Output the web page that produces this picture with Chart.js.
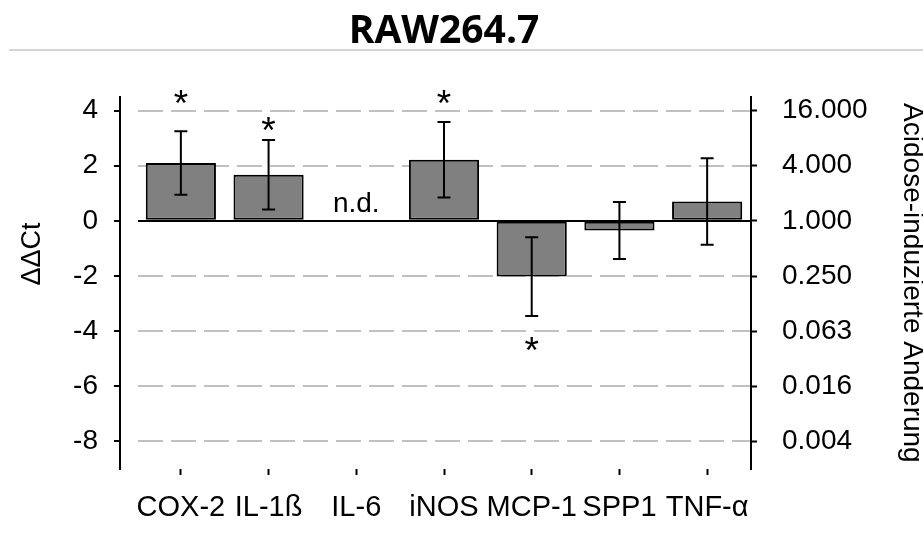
<!DOCTYPE html>
<html><head><meta charset="utf-8">
<script src="https://cdn.jsdelivr.net/npm/chart.js@4.4.1/dist/chart.umd.min.js"></script>
<style>html,body{margin:0;padding:0;background:#fff;}canvas{display:block;}</style>
</head><body>
<canvas id="c" width="923" height="538"></canvas>
<script>
const categories = ['COX-2', 'IL-1ß', 'IL-6', 'iNOS', 'MCP-1', 'SPP1', 'TNF-α'];
const ddCt = [2.10, 1.67, null, 2.22, -2.02, -0.35, 0.70];
const ddCtError = [1.15, 1.26, null, 1.37, 1.43, 1.03, 1.57];
const significance = ['*', '*', '', '*', '*', '', ''];
const asteriskLevel = [4.55, 3.58, null, 4.55, -4.4, null, null];
const notDetected = ['', '', 'n.d.', '', '', '', ''];
const leftTickValues = [4, 2, 0, -2, -4, -6, -8];
const rightTickLabels = ['16.000', '4.000', '1.000', '0.250', '0.063', '0.016', '0.004'];
const titleText = 'RAW264.7';
const leftAxisTitle = 'ΔΔCt';
const rightAxisTitle = 'Acidose-induzierte Änderung';

const FONT = '"Liberation Sans", Arial, sans-serif';
Chart.defaults.font.family = FONT;
Chart.defaults.color = '#000';

const tickList = () => [...leftTickValues].sort((a, b) => a - b).map(v => ({ value: v }));

const annotate = {
  id: 'annotate',
  beforeDraw(chart) {
    const ctx = chart.ctx;
    ctx.save();
    ctx.strokeStyle = '#d4d4d4';
    ctx.lineWidth = 2;
    ctx.beginPath();
    ctx.moveTo(9, 50);
    ctx.lineTo(923, 50);
    ctx.stroke();
    ctx.restore();
  },
  afterDatasetsDraw(chart) {
    const { ctx, scales: { x, y } } = chart;
    ctx.save();
    ctx.strokeStyle = '#000';
    ctx.lineWidth = 2;
    ddCt.forEach((v, i) => {
      if (v == null) return;
      const e = ddCtError[i];
      const px = x.getPixelForValue(i);
      const yt = y.getPixelForValue(v + e);
      const yb = y.getPixelForValue(v - e);
      ctx.beginPath();
      ctx.moveTo(px, yt); ctx.lineTo(px, yb);
      ctx.moveTo(px - 6.5, yt); ctx.lineTo(px + 6.5, yt);
      ctx.moveTo(px - 6.5, yb); ctx.lineTo(px + 6.5, yb);
      ctx.stroke();
    });
    ctx.fillStyle = '#000';
    ctx.textAlign = 'center';
    ctx.textBaseline = 'alphabetic';
    ctx.font = '37px ' + FONT;
    significance.forEach((s, i) => {
      if (!s) return;
      ctx.fillText(s, x.getPixelForValue(i), y.getPixelForValue(asteriskLevel[i]) + 21);
    });
    ctx.font = '28px ' + FONT;
    notDetected.forEach((t, i) => {
      if (!t) return;
      ctx.fillText(t, x.getPixelForValue(i), y.getPixelForValue(0) - 9);
    });
    ctx.font = '27px ' + FONT;
    ctx.translate(33, 254);
    ctx.rotate(-Math.PI / 2);
    ctx.textBaseline = 'middle';
    ctx.fillText(leftAxisTitle, 0, 0);
    ctx.restore();
  }
};

new Chart(document.getElementById('c'), {
  type: 'bar',
  data: {
    labels: categories,
    datasets: [{
      data: ddCt,
      yAxisID: 'y',
      backgroundColor: '#808080',
      borderColor: '#000',
      borderWidth: 2,
      borderSkipped: false,
      barPercentage: 0.8,
      categoryPercentage: 1
    }]
  },
  options: {
    responsive: false,
    devicePixelRatio: 1,
    animation: false,
    layout: { padding: 0 },
    plugins: {
      legend: { display: false },
      tooltip: { enabled: false },
      title: {
        display: true,
        text: titleText,
        fullSize: false,
        color: '#000',
        font: { family: '"Open Sans", sans-serif', weight: 'bold', size: 39, lineHeight: 1.2 },
        padding: { top: 8, bottom: 42 }
      }
    },
    scales: {
      x: {
        type: 'category',
        offset: true,
        grid: { display: true, drawOnChartArea: false, drawTicks: true, tickLength: 6, tickWidth: 2, tickColor: '#000', offset: false },
        border: { display: false },
        ticks: { font: { size: 29 }, color: '#000', padding: 16, maxRotation: 0, minRotation: 0, autoSkip: false },
        afterFit: s => { s.height = 69; }
      },
      y: {
        type: 'linear',
        position: 'left',
        weight: 1,
        min: -9,
        max: 4.5,
        afterBuildTicks: s => { s.ticks = tickList(); },
        grid: {
          color: c => (c.tick && c.tick.value === 0) ? '#000' : '#c0c0c0',
          lineWidth: 2,
          drawTicks: true,
          tickLength: 6,
          tickWidth: 2,
          tickColor: '#000'
        },
        border: {
          display: true, color: '#000', width: 2,
          dash: c => (c.tick && c.tick.value !== 0) ? [25, 8] : []
        },
        ticks: { font: { size: 28 }, color: '#000', padding: 16 },
        afterFit: s => { s.width = 120; }
      },
      ySpacer: {
        type: 'linear',
        position: 'left',
        weight: 0,
        min: 0,
        max: 1,
        grid: { display: false },
        border: { display: false },
        ticks: { display: false },
        afterFit: s => { s.width = 17; }
      },
      y2: {
        type: 'linear',
        position: 'right',
        min: -9,
        max: 4.5,
        afterBuildTicks: s => { s.ticks = tickList(); },
        grid: { drawOnChartArea: false, drawTicks: true, tickLength: 6, tickWidth: 2, tickColor: '#000' },
        border: { display: true, color: '#000', width: 2 },
        ticks: {
          font: { size: 28 }, color: '#000', padding: 25,
          callback: v => rightTickLabels[leftTickValues.indexOf(v)]
        },
        title: { display: true, text: rightAxisTitle, color: '#000', font: { size: 28, lineHeight: 0.8 }, padding: 0 },
        afterFit: s => { s.width = 172; }
      }
    }
  },
  plugins: [annotate]
});
</script>
</body></html>
